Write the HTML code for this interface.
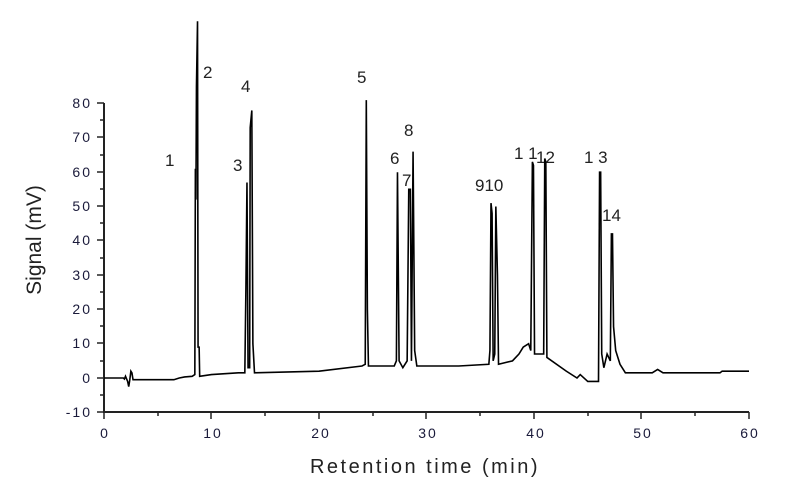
<!DOCTYPE html>
<html><head><meta charset="utf-8"><style>
body{margin:0;background:#fff;width:800px;height:498px;overflow:hidden}
text{font-family:"Liberation Sans",Arial,sans-serif}
</style></head><body>
<svg width="800" height="498" viewBox="0 0 800 498" xmlns="http://www.w3.org/2000/svg">
<g stroke="#222" stroke-width="2" fill="none">
<line x1="104" y1="103" x2="104" y2="413"/>
<line x1="103" y1="412" x2="749" y2="412"/>
</g>
<g stroke="#222" stroke-width="1.5">
<line x1="97" y1="103" x2="104" y2="103"/><line x1="100" y1="120" x2="104" y2="120"/>
<line x1="97" y1="137" x2="104" y2="137"/><line x1="100" y1="155" x2="104" y2="155"/>
<line x1="97" y1="172" x2="104" y2="172"/><line x1="100" y1="189" x2="104" y2="189"/>
<line x1="97" y1="206" x2="104" y2="206"/><line x1="100" y1="223" x2="104" y2="223"/>
<line x1="97" y1="240" x2="104" y2="240"/><line x1="100" y1="258" x2="104" y2="258"/>
<line x1="97" y1="275" x2="104" y2="275"/><line x1="100" y1="292" x2="104" y2="292"/>
<line x1="97" y1="309" x2="104" y2="309"/><line x1="100" y1="326" x2="104" y2="326"/>
<line x1="97" y1="343" x2="104" y2="343"/><line x1="100" y1="361" x2="104" y2="361"/>
<line x1="97" y1="378" x2="104" y2="378"/><line x1="100" y1="395" x2="104" y2="395"/>
<line x1="97" y1="412" x2="104" y2="412"/>
<line x1="104" y1="412" x2="104" y2="419"/><line x1="158" y1="412" x2="158" y2="416"/>
<line x1="211" y1="412" x2="211" y2="419"/><line x1="265" y1="412" x2="265" y2="416"/>
<line x1="319" y1="412" x2="319" y2="419"/><line x1="373" y1="412" x2="373" y2="416"/>
<line x1="426" y1="412" x2="426" y2="419"/><line x1="480" y1="412" x2="480" y2="416"/>
<line x1="534" y1="412" x2="534" y2="419"/><line x1="588" y1="412" x2="588" y2="416"/>
<line x1="641" y1="412" x2="641" y2="419"/><line x1="695" y1="412" x2="695" y2="416"/>
<line x1="749" y1="412" x2="749" y2="419"/>
</g>
<g fill="#1a1a3a" font-size="14" text-anchor="end" letter-spacing="2">
<text x="92" y="108">80</text><text x="92" y="142">70</text><text x="92" y="177">60</text>
<text x="92" y="211">50</text><text x="92" y="245">40</text><text x="92" y="280">30</text>
<text x="92" y="314">20</text><text x="92" y="348">10</text><text x="92" y="383">0</text>
<text x="92" y="417">-10</text>
</g>
<g fill="#1a1a3a" font-size="14" text-anchor="middle" letter-spacing="2">
<text x="105" y="438">0</text><text x="213" y="438">10</text><text x="321" y="438">20</text>
<text x="428" y="438">30</text><text x="536" y="438">40</text><text x="643" y="438">50</text>
<text x="750" y="438">60</text>
</g>
<text x="425" y="473" font-size="20" text-anchor="middle" letter-spacing="2.5" fill="#222">Retention time (min)</text>
<text transform="translate(41,240) rotate(-90)" font-size="21" text-anchor="middle" fill="#222">Signal (mV)</text>
<g font-size="17" fill="#222">
<text x="165" y="166">1</text><text x="203" y="78">2</text><text x="233" y="171">3</text>
<text x="241" y="92">4</text><text x="357" y="83">5</text><text x="390" y="164">6</text>
<text x="402" y="186">7</text><text x="404" y="136">8</text><text x="475" y="191">910</text>
<text x="514" y="159">1 1</text><text x="536" y="163">12</text><text x="584" y="163">1 3</text>
<text x="602" y="221">14</text>
</g>
<g transform="translate(104,378) scale(10.75,-3.43)">
<polyline fill="none" stroke="#000" stroke-width="1.6" vector-effect="non-scaling-stroke" points="0,0 1.8,0 1.9,-0.3 2.0,0.5 2.2,-1 2.3,-2.5 2.4,-0.5 2.5,2 2.6,1.5 2.7,-0.5 6.5,-0.5 7,0 7.5,0.3 8.2,0.5 8.45,1 8.5,61 8.55,52 8.6,85 8.7,104 8.75,9 8.85,9 8.9,0.5 10,1 12.5,1.5 13.1,1.5 13.2,26 13.3,57 13.4,3 13.55,3 13.6,73 13.75,78 13.85,10 14,1.5 20,2 24,3.5 24.3,4 24.4,81 24.5,20 24.6,3.5 27,3.5 27.2,5 27.3,60 27.45,5 27.8,3 28.2,5 28.35,55 28.5,55 28.6,5 28.75,66 28.9,8 29.1,3.5 33,3.5 35.8,4 35.9,8 36.0,51 36.1,48 36.2,5 36.35,7 36.45,50 36.6,30 36.7,4 38,5 38.6,7 39,9 39.5,10 39.7,8 39.85,63 39.95,62 40.05,7 40.9,7 41.0,64 41.1,63 41.2,6 43,2 44,0 44.3,1 45,-1 46,-1 46.1,60 46.2,60 46.3,7 46.5,3 46.8,7 47.1,5 47.2,42 47.3,42 47.4,15 47.6,8 48,4 48.5,1.5 51,1.5 51.5,2.5 52,1.5 57.3,1.5 57.5,2 60,2"/>
</g>
</svg>
</body></html>
